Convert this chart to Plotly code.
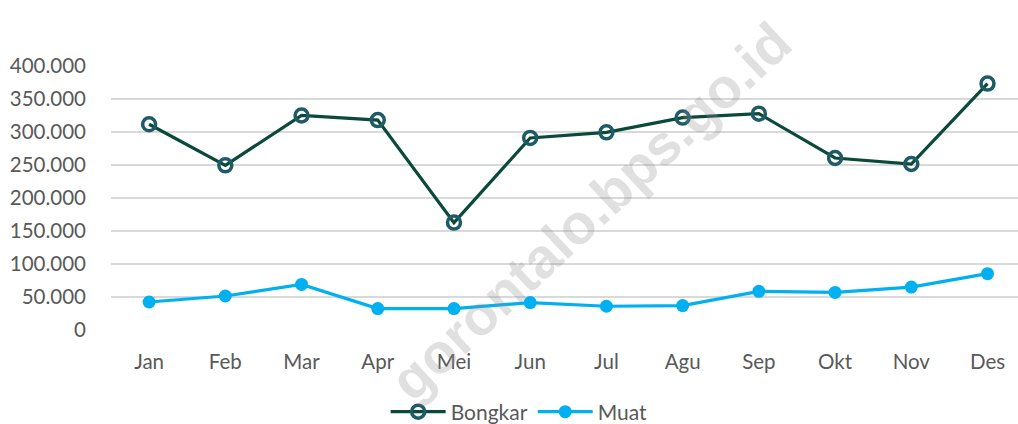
import plotly.graph_objects as go

months = ["Jan", "Feb", "Mar", "Apr", "Mei", "Jun", "Jul", "Agu", "Sep", "Okt", "Nov", "Des"]
bongkar = [311700, 249500, 325000, 318000, 162700, 291000, 299500, 321800, 327800, 260600, 251500, 373300]
muat = [42400, 51500, 69000, 32400, 32400, 41500, 36000, 37000, 58600, 57000, 65000, 85400]
y_ticks = [0, 50000, 100000, 150000, 200000, 250000, 300000, 350000, 400000]

FONT = "Lato"
TXT = "#595959"
L, T, B, W, H = 111, 66, 94, 1018, 424
PH = H - T - B

fig = go.Figure()
fig.add_trace(go.Scatter(
    x=months, y=bongkar, name="Bongkar", mode="lines+markers",
    line=dict(color="#0B4A3A", width=3.2),
    marker=dict(symbol="circle-open", size=13, color="#1E5B66", line=dict(width=3.5, color="#1E5B66")),
))
fig.add_trace(go.Scatter(
    x=months, y=muat, name="Muat", mode="lines+markers",
    line=dict(color="#00B0F0", width=3.2),
    marker=dict(symbol="circle", size=13, color="#00B0F0"),
))

fig.add_annotation(
    text="<b>gorontalo.bps.go.id</b>",
    x=(590 - L) / (W - L), y=(H - B - 211) / PH, xref="paper", yref="paper",
    xanchor="center", yanchor="middle",
    showarrow=False, textangle=-43,
    font=dict(family="Liberation Sans", size=56, color="rgba(140,140,140,0.27)"),
)

fig.update_layout(
    width=W, height=H,
    margin=dict(l=L, r=0, t=T, b=B, autoexpand=False),
    paper_bgcolor="white", plot_bgcolor="white",
    separators=",.",
    font=dict(family=FONT, size=20, color=TXT),
    showlegend=True,
    legend=dict(orientation="h", x=0.45, xanchor="center", y=(H - B - 412) / PH, yanchor="middle",
                font=dict(family=FONT, size=21, color=TXT), itemwidth=55, tracegroupgap=0),
    xaxis=dict(type="category", range=[-0.5, 11.4], showgrid=False, zeroline=False,
               showline=False, ticks="", ticklabelstandoff=17, automargin=False,
               tickfont=dict(family=FONT, size=20.5, color=TXT)),
    yaxis=dict(range=[0, 400000], tickvals=y_ticks, tickformat=",d",
               showgrid=True, gridcolor="#D9D9D9", gridwidth=1.5, zeroline=False,
               showline=False, ticks="", ticklabelstandoff=24, automargin=False,
               tickfont=dict(family=FONT, size=20.5, color=TXT)),
)

fig.write_html("out.html", config={"displayModeBar": False},
               post_script="document.body.style.margin='0';document.body.style.overflow='hidden';")
